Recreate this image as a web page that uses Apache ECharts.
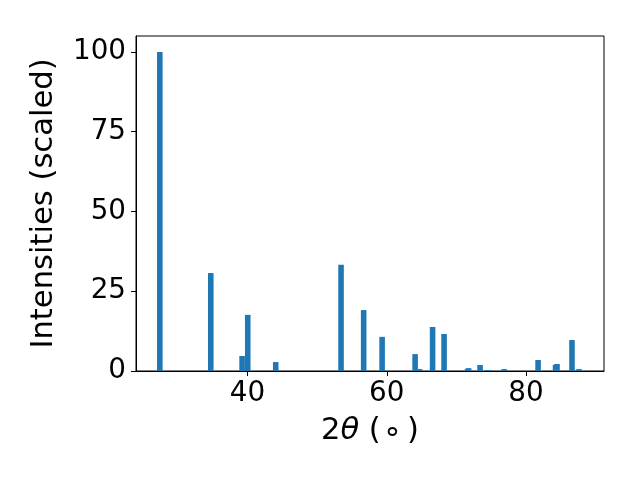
<!DOCTYPE html>
<html>
<head>
<meta charset="utf-8">
<script src="https://cdn.jsdelivr.net/npm/echarts@6/dist/echarts.min.js"></script>
<style>
  html, body { margin: 0; padding: 0; background: #fff; }
  #chart { width: 640px; height: 480px; }
</style>
</head>
<body>
<div id="chart"></div>
<script>
// Peak positions (2θ, degrees) and scaled intensities
const twoTheta = [27.40, 34.72, 39.22, 40.03, 44.05, 53.43, 56.68, 59.33, 64.07, 64.72,
                  66.58, 68.23, 71.60, 71.75, 73.40, 74.55, 76.85, 81.73, 84.24, 84.45,
                  86.60, 87.61];
const intensity = [100, 30.7, 4.7, 17.6, 2.8, 33.3, 19.1, 10.7, 5.3, 0.6,
                   13.8, 11.6, 0.6, 0.9, 1.9, 0.3, 0.6, 3.45, 1.9, 2.2,
                   9.7, 0.6];
const xTicks = [40, 60, 80];
const yTicks = [0, 25, 50, 75, 100];
const barWidth = 0.8;

const font = 'DejaVu Sans';
const tickSize = 27.8;
const labelSize = 30.6;
const chart = echarts.init(document.getElementById('chart'), null, { renderer: 'canvas' });

const data = twoTheta.map((t, i) => [t, intensity[i]]);

chart.setOption({
  animation: false,
  backgroundColor: '#ffffff',
  grid: {
    left: 136, right: 36, top: 36, bottom: 109,
    show: true, borderColor: '#000', borderWidth: 1, backgroundColor: 'transparent'
  },
  xAxis: {
    type: 'value',
    min: 23.98, max: 91.2,
    splitLine: { show: false },
    axisLine: { show: true, onZero: false, lineStyle: { color: '#000', width: 1 } },
    axisTick: { show: true, inside: false, length: 5, lineStyle: { color: '#000', width: 1 }, customValues: xTicks },
    axisLabel: { color: '#000', fontFamily: font, fontSize: tickSize, margin: 9, customValues: xTicks },
    name: '{n|2}{t|θ}{n| (}{d|°}{n|)}',
    nameLocation: 'middle',
    nameGap: 45,
    nameTextStyle: {
      rich: {
        n: { fontFamily: font, fontSize: labelSize, color: '#000', verticalAlign: 'top' },
        t: { fontFamily: font, fontSize: labelSize, color: '#000', fontStyle: 'italic', verticalAlign: 'top' },
        d: { fontFamily: font, fontSize: labelSize, color: '#000', verticalAlign: 'top',
             padding: [10, 7, 0, 4] }
      }
    }
  },
  yAxis: {
    type: 'value',
    min: 0, max: 105,
    splitLine: { show: false },
    axisLine: { show: true, onZero: false, lineStyle: { color: '#000', width: 1 } },
    axisTick: { show: true, inside: false, length: 5, lineStyle: { color: '#000', width: 1 }, customValues: yTicks },
    axisLabel: { color: '#000', fontFamily: font, fontSize: tickSize, margin: 10, customValues: yTicks },
    name: 'Intensities (scaled)',
    nameLocation: 'middle',
    nameGap: 76,
    nameTextStyle: { fontFamily: font, fontSize: labelSize, color: '#000' }
  },
  series: [{
    type: 'custom',
    clip: true,
    encode: { x: 0, y: 1 },
    data: data,
    renderItem: function (params, api) {
      const x = api.value(0), y = api.value(1);
      const p0 = api.coord([x - barWidth / 2, y]);
      const p1 = api.coord([x + barWidth / 2, 0]);
      return {
        type: 'rect',
        shape: { x: p0[0], y: p0[1], width: p1[0] - p0[0], height: p1[1] - p0[1] },
        style: { fill: '#1f77b4' }
      };
    }
  }]
});
</script>
</body>
</html>
